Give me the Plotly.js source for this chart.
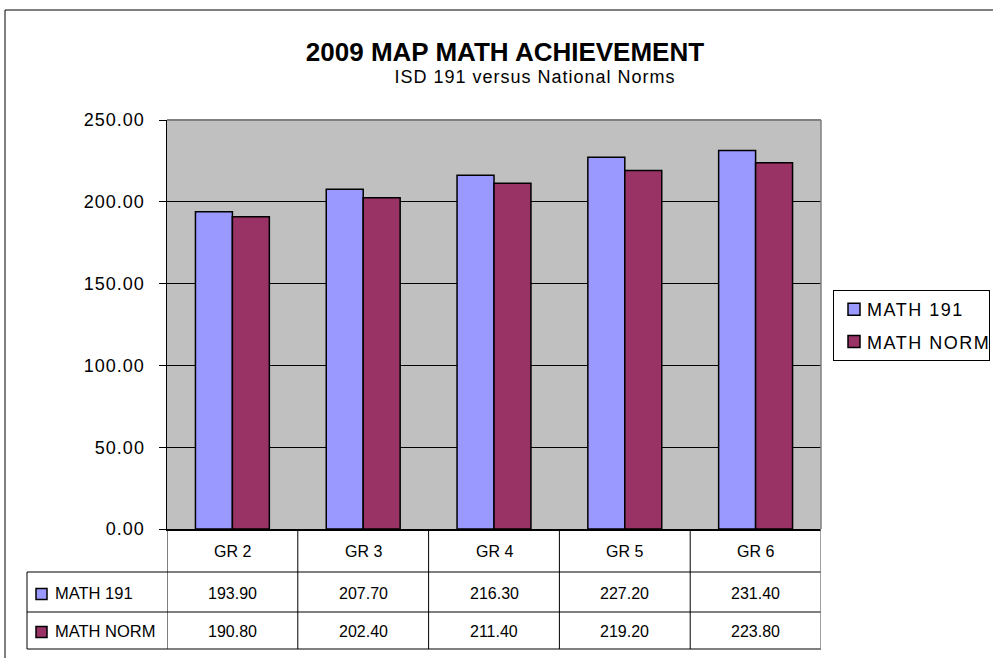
<!DOCTYPE html>
<html><head><meta charset="utf-8">
<script src="https://cdn.plot.ly/plotly-3.0.1.min.js"></script>
<style>
html,body{margin:0;padding:0;background:#fff;}
#chart{width:993px;height:658px;}
.ytick text{letter-spacing:1px;}
.legend .legendtext{letter-spacing:1.5px;transform:translateX(-7px);}
g.annotation[data-index="0"] text{letter-spacing:1px;}
</style></head><body><div id="chart"></div>
<script>
const categories = ['GR 2','GR 3','GR 4','GR 5','GR 6'];
const seriesNames = ['MATH 191','MATH NORM'];
const math191 = [193.9, 207.7, 216.3, 227.2, 231.4];
const mathNorm = [190.8, 202.4, 211.4, 219.2, 223.8];
const seriesColors = ['#9999FF', '#993366'];
const yTicks = [0, 50, 100, 150, 200, 250];
const chartTitle = '2009 MAP MATH ACHIEVEMENT';
const chartSubtitle = 'ISD 191 versus National Norms';

const FONT = 'Liberation Sans, Arial, sans-serif';
const seriesValues = [math191, mathNorm];

const traces = seriesValues.map((vals, k) => ({
  type: 'bar', x: categories, y: vals, name: seriesNames[k],
  legendgroup: 'g' + k,
  marker: {color: seriesColors[k], line: {color: '#000', width: 1.5}},
  hoverinfo: 'x+y+name'
}));

// px->paper helpers for table geometry (plot area: x 167..821, y 120..529)
const PX = p => (p - 167) / 654;
const PY = p => (529 - p) / 409;

const shapes = [];
const annotations = [];
// subtitle first (index 0)
annotations.push({text: chartSubtitle, xref: 'paper', yref: 'paper', x: PX(535), y: PY(77),
  xanchor: 'center', yanchor: 'middle', showarrow: false, font: {family: FONT, size: 18, color: '#000'}});

// outer chart border
shapes.push({type: 'rect', xref: 'paper', yref: 'paper', x0: PX(5), x1: PX(1010), y0: PY(10), y1: PY(680),
  line: {color: '#000', width: 1}, fillcolor: 'rgba(0,0,0,0)', layer: 'below'});
// plot area top & right gray border
shapes.push({type: 'line', xref: 'paper', yref: 'paper', x0: 0, x1: 1, y0: 1, y1: 1, line: {color: '#808080', width: 2}, layer: 'above'});
shapes.push({type: 'line', xref: 'paper', yref: 'paper', x0: 1, x1: 1, y0: 0, y1: 1, line: {color: '#808080', width: 1.5}, layer: 'above'});

// data table
const tBot = PY(649), tRow1 = PY(572), tRow2 = PY(612), tLeft = PX(27);
[tRow1, tRow2, tBot].forEach(y => shapes.push({type: 'line', xref: 'paper', yref: 'paper', x0: tLeft, x1: 1, y0: y, y1: y, line: {color: '#000', width: 1}}));
shapes.push({type: 'line', xref: 'paper', yref: 'paper', x0: tLeft, x1: tLeft, y0: tRow1, y1: tBot, line: {color: '#000', width: 1}});
for (let i = 0; i <= categories.length; i++) {
  shapes.push({type: 'line', xref: 'x', yref: 'paper', x0: i - 0.5, x1: i - 0.5, y0: 0, y1: tBot,
    line: {color: i === categories.length ? '#808080' : '#000', width: i === categories.length ? 1.5 : 1}});
}
categories.forEach((c, i) => {
  annotations.push({text: c, xref: 'x', yref: 'paper', x: c, y: PY(551), xanchor: 'center', yanchor: 'middle',
    showarrow: false, font: {family: FONT, size: 16, color: '#000'}});
  seriesValues.forEach((vals, k) => {
    annotations.push({text: vals[i].toFixed(2), xref: 'x', yref: 'paper', x: c, y: PY(k === 0 ? 593 : 631),
      xanchor: 'center', yanchor: 'middle', showarrow: false, font: {family: FONT, size: 16, color: '#000'}});
  });
});
seriesNames.forEach((n, k) => {
  const cy = k === 0 ? 594 : 632;
  shapes.push({type: 'rect', xref: 'paper', yref: 'paper', x0: PX(36), x1: PX(47), y0: PY(cy - 5.5), y1: PY(cy + 5.5),
    fillcolor: seriesColors[k], line: {color: '#000', width: 1.5}});
  annotations.push({text: n, xref: 'paper', yref: 'paper', x: PX(53), y: PY(cy - 1), xanchor: 'left', yanchor: 'middle',
    showarrow: false, font: {family: FONT, size: 16.5, color: '#000'}});
});

const layout = {
  width: 993, height: 658,
  margin: {l: 167, r: 172, t: 120, b: 129, pad: 0, autoexpand: false},
  paper_bgcolor: '#fff', plot_bgcolor: '#C0C0C0',
  font: {family: FONT, color: '#000'},
  title: {text: '<b>' + chartTitle + '</b>', xref: 'container', yref: 'container', x: 505 / 993, y: 1 - 52 / 658,
    xanchor: 'center', yanchor: 'middle', font: {family: FONT, size: 26, color: '#000'}},
  barmode: 'group', bargap: 0.435, bargroupgap: 0,
  xaxis: {type: 'category', range: [-0.5, 4.5], showticklabels: false, ticks: '', showgrid: false,
    showline: true, linecolor: '#000', linewidth: 1.5, zeroline: false, fixedrange: true},
  yaxis: {range: [0, 250], tickvals: yTicks, tickformat: '.2f', ticks: 'outside', ticklen: 7, tickcolor: '#000', tickwidth: 1,
    ticklabelstandoff: 10, tickfont: {family: FONT, size: 18, color: '#000'},
    showline: true, linecolor: '#000', linewidth: 1.5, gridcolor: '#000', gridwidth: 1, zeroline: false, fixedrange: true},
  showlegend: true,
  legend: {x: PX(833), y: PY(290), xanchor: 'left', yanchor: 'top', bordercolor: '#000', borderwidth: 1,
    bgcolor: '#fff', font: {family: FONT, size: 18, color: '#000'}, tracegroupgap: 6, traceorder: 'grouped', itemwidth: 30},
  shapes: shapes, annotations: annotations
};

Plotly.newPlot('chart', traces, layout, {displayModeBar: false, staticPlot: true});
</script></body></html>
